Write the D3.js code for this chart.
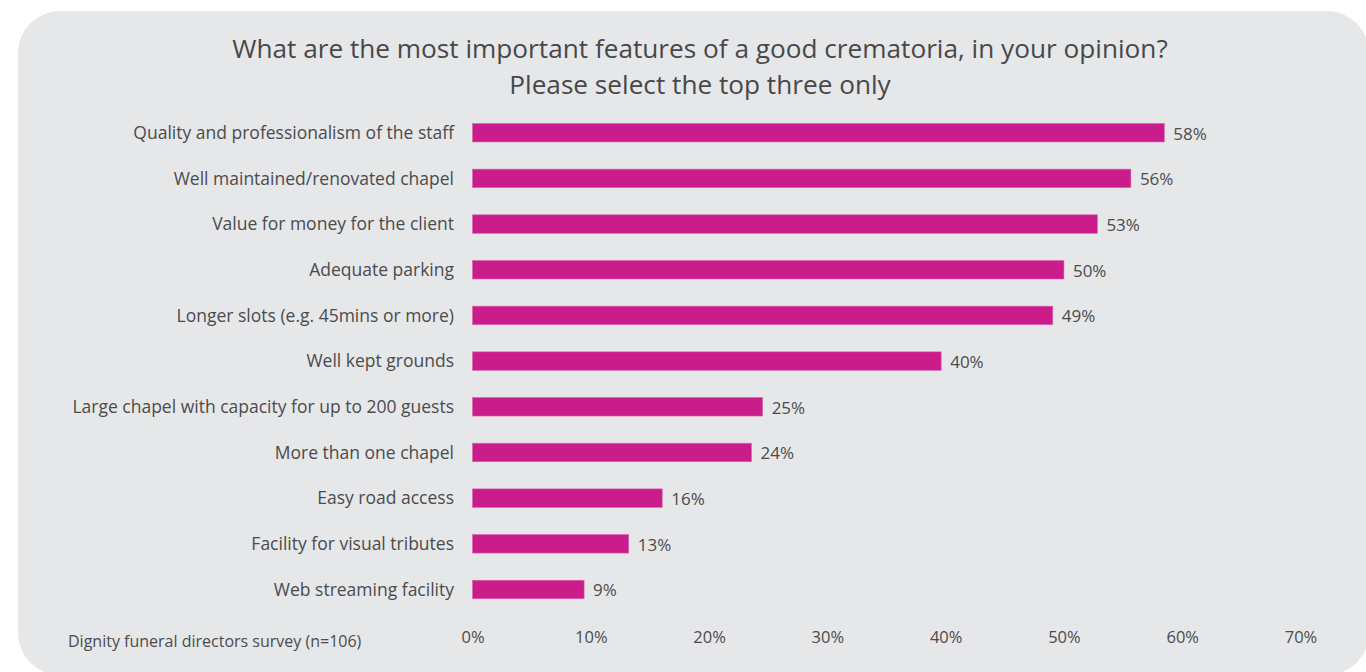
<!DOCTYPE html>
<html>
<head>
<meta charset="utf-8">
<script src="https://cdn.jsdelivr.net/npm/d3@7"></script>
<style>
  html, body { margin: 0; padding: 0; background: #ffffff; }
  svg { display: block; font-family: "Open Sans", "Noto Sans", sans-serif; }
</style>
</head>
<body>
<svg id="chart" width="1366" height="672"></svg>
<script>
// ---- data ----
const categories = [
  "Quality and professionalism of the staff",
  "Well maintained/renovated chapel",
  "Value for money for the client",
  "Adequate parking",
  "Longer slots (e.g. 45mins or more)",
  "Well kept grounds",
  "Large chapel with capacity for up to 200 guests",
  "More than one chapel",
  "Easy road access",
  "Facility for visual tributes",
  "Web streaming facility"
];
const respondents = 106;
const counts = [62, 59, 56, 53, 52, 42, 26, 25, 17, 14, 10];
const percentValues = counts.map(c => c / respondents * 100);
const tickValues = [0, 10, 20, 30, 40, 50, 60, 70];
const titleLines = [
  "What are the most important features of a good crematoria, in your opinion?",
  "Please select the top three only"
];
const footnote = "Dignity funeral directors survey (n=106)";

// ---- drawing ----
const svg = d3.select("#chart");
const textColor = "#4b4b4d";
const barColor = "#cb1c8c";

svg.append("rect")
  .attr("x", 18).attr("y", 11)
  .attr("width", 1351).attr("height", 664)
  .attr("rx", 42).attr("ry", 42)
  .attr("fill", "#e6e7e9");

const x = d3.scaleLinear().domain([0, 70]).range([472.5, 1300.5]);
const step = 45.68;
const y = d3.scaleBand()
  .domain(categories)
  .range([132.7 - step / 2, 132.7 - step / 2 + step * categories.length])
  .paddingInner(0.595)
  .paddingOuter(0.595 / 2);

// title
svg.append("g").selectAll("text")
  .data(titleLines)
  .join("text")
  .attr("x", 700)
  .attr("y", (d, i) => 58 + i * 36)
  .attr("text-anchor", "middle")
  .attr("font-size", 26.2)
  .attr("fill", "#48484a")
  .text(d => d);

// bars
const data = categories.map((c, i) => ({ cat: c, value: percentValues[i] }));
svg.append("g").selectAll("rect")
  .data(data)
  .join("rect")
  .attr("x", x(0))
  .attr("y", d => y(d.cat))
  .attr("width", d => x(d.value) - x(0))
  .attr("height", y.bandwidth())
  .attr("fill", barColor)
  .attr("stroke", "#d766ad")
  .attr("stroke-width", 0.6);

// category labels
svg.append("g").selectAll("text")
  .data(data)
  .join("text")
  .attr("x", x(0) - 18.5)
  .attr("y", d => y(d.cat) + y.bandwidth() / 2)
  .attr("dy", "0.35em")
  .attr("text-anchor", "end")
  .attr("font-size", 17.5)
  .attr("fill", textColor)
  .text(d => d.cat);

// value labels
svg.append("g").selectAll("text")
  .data(data)
  .join("text")
  .attr("x", d => x(d.value) + 9)
  .attr("y", d => y(d.cat) + y.bandwidth() / 2 + 1)
  .attr("dy", "0.35em")
  .attr("font-size", 17)
  .attr("fill", textColor)
  .text(d => Math.round(d.value) + "%");

// x axis
const axis = d3.axisBottom(x)
  .tickValues(tickValues)
  .tickSize(0)
  .tickPadding(0)
  .tickFormat(d => d + "%");
const gx = svg.append("g")
  .attr("transform", "translate(0,631)")
  .call(axis);
gx.select(".domain").remove();
gx.selectAll("text")
  .attr("font-family", "\"Open Sans\", \"Noto Sans\", sans-serif")
  .attr("font-size", 16.5)
  .attr("fill", textColor);

// footnote
svg.append("text")
  .attr("x", 68)
  .attr("y", 647)
  .attr("font-size", 16)
  .attr("fill", textColor)
  .text(footnote);
</script>
</body>
</html>
